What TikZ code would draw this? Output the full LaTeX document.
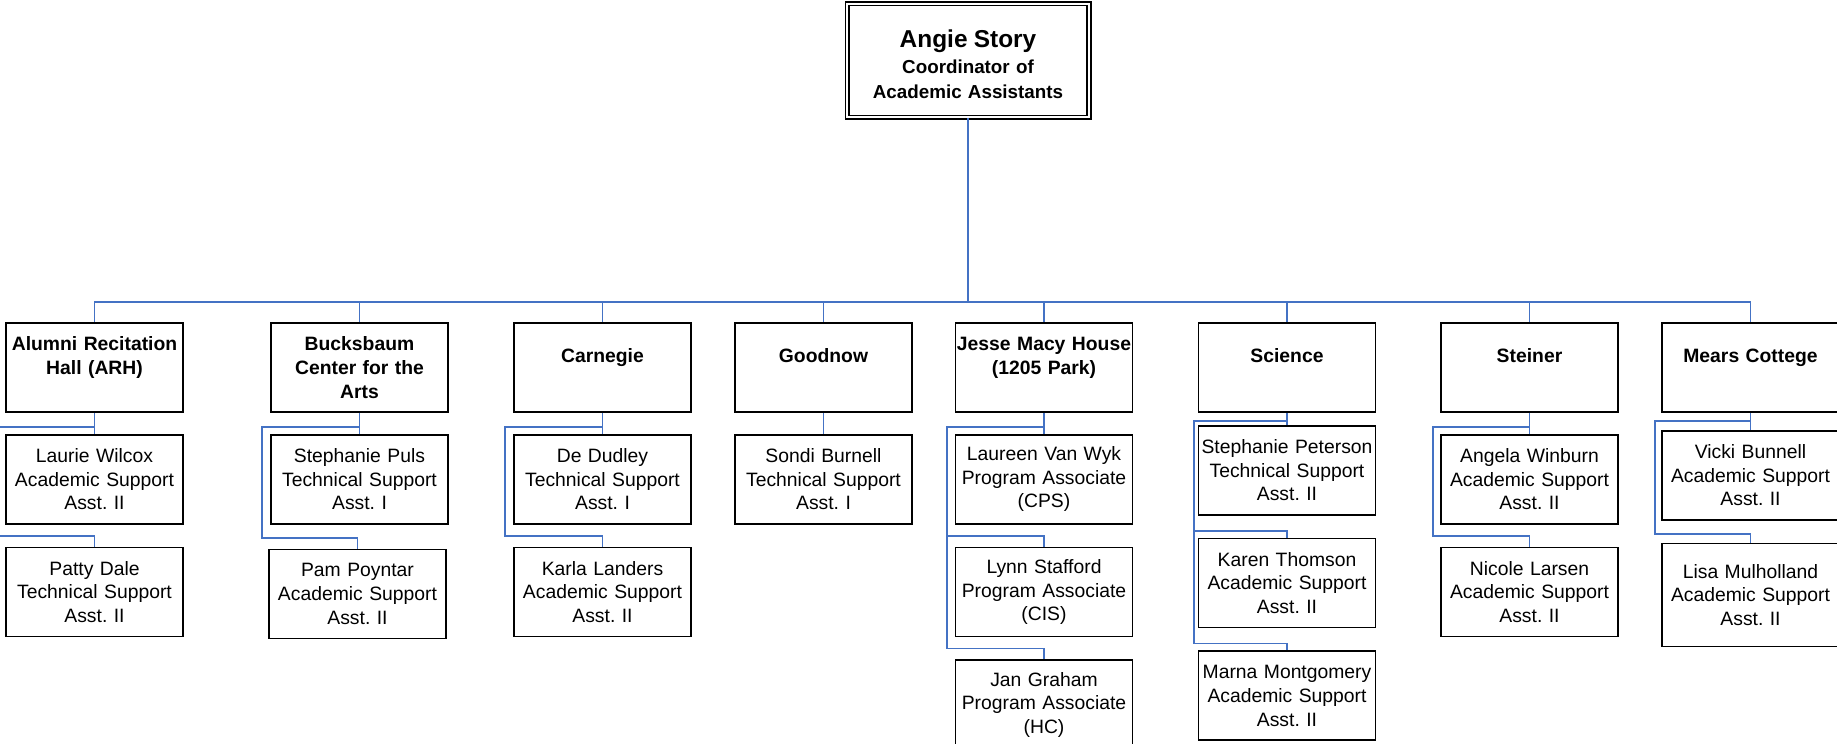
\documentclass[tikz,border=0pt]{standalone}
\usepackage{fontspec}
\setmainfont{Liberation Sans}
\usetikzlibrary{positioning,calc}
\definecolor{LinkBlue}{RGB}{68,114,196}
\frenchspacing

\begin{document}
\begin{tikzpicture}[
  head/.style={draw,double,line width=0.8pt,double distance=1.4pt,minimum width=4.73cm,minimum height=2.27cm,text width=4.6cm,align=center,font=\bfseries\fontsize{10.7}{13.8}\selectfont},
  dept/.style={draw,line width=1pt,minimum width=3.54cm,minimum height=1.78cm,inner xsep=0.02cm,text width=3.5cm,align=center,font=\bfseries\fontsize{11}{13.5}\selectfont},
  staff/.style={dept,font=\fontsize{11}{13.5}\selectfont},
  link/.style={draw=LinkBlue,line width=1pt},
  node distance=0.44cm
]
  \useasboundingbox (0,0) rectangle (36.74,-14.86);

  % coordinator
  \node[head] (angie) at (19.36,-1.21) {\rule{0pt}{0.5cm}{\fontsize{13.9}{16}\selectfont Angie Story}\\[1pt] Coordinator of\\ Academic Assistants};
  \coordinate (bus) at (19.36,-6.04);

  % buildings
  \node[dept] (arh) at (1.89,-7.35) {Alumni Recitation\\ Hall (ARH)\\ \mbox{}};
  \node[dept] (bucks) at (7.19,-7.35) {Bucksbaum\\ Center for the\\ Arts};
  \node[dept] (carn) at (12.05,-7.35) {Carnegie\\ \mbox{}};
  \node[dept] (good) at (16.47,-7.35) {Goodnow\\ \mbox{}};
  \node[dept] (jmh) at (20.88,-7.35) {Jesse Macy House\\ (1205 Park)\\ \mbox{}};
  \node[dept] (sci) at (25.74,-7.35) {Science\\ \mbox{}};
  \node[dept] (stein) at (30.59,-7.35) {Steiner\\ \mbox{}};
  \node[dept] (mears) at (35.01,-7.35) {Mears Cottege\\ \mbox{}};

  % assistants
  \node[staff,below=0.42cm of arh] (arh-a) {Laurie Wilcox\\ Academic Support\\ Asst. II};
  \node[staff,below=of arh-a] (arh-b) {Patty Dale\\ Technical Support\\ Asst. II};

  \node[staff,below=0.42cm of bucks] (bucks-a) {Stephanie Puls\\ Technical Support\\ Asst. I};
  \node[staff,below=0.48cm of bucks-a,xshift=-0.04cm] (bucks-b) {Pam Poyntar\\ Academic Support\\ Asst. II};

  \node[staff,below=0.42cm of carn] (carn-a) {De Dudley\\ Technical Support\\ Asst. I};
  \node[staff,below=of carn-a] (carn-b) {Karla Landers\\ Academic Support\\ Asst. II};

  \node[staff,below=0.42cm of good] (good-a) {Sondi Burnell\\ Technical Support\\ Asst. I};

  \node[staff,below=0.42cm of jmh] (jmh-a) {Laureen Van Wyk\\ Program Associate\\ (CPS)};
  \node[staff,below=of jmh-a] (jmh-b) {Lynn Stafford\\ Program Associate\\ (CIS)};
  \node[staff,below=of jmh-b] (jmh-c) {Jan Graham\\ Program Associate\\ (HC)};

  \node[staff,below=0.24cm of sci] (sci-a) {Stephanie Peterson\\ Technical Support\\ Asst. II};
  \node[staff,below=of sci-a] (sci-b) {Karen Thomson\\ Academic Support\\ Asst. II};
  \node[staff,below=of sci-b] (sci-c) {Marna Montgomery\\ Academic Support\\ Asst. II};

  \node[staff,below=0.42cm of stein] (stein-a) {Angela Winburn\\ Academic Support\\ Asst. II};
  \node[staff,below=of stein-a] (stein-b) {Nicole Larsen\\ Academic Support\\ Asst. II};

  \node[staff,below=0.34cm of mears] (mears-a) {Vicki Bunnell\\ Academic Support\\ Asst. II};
  \node[staff,below=of mears-a,minimum height=2.06cm] (mears-b) {Lisa Mulholland\\ Academic Support\\ Asst. II};

  % top level links
  \draw[link] (angie) -- (bus);
  \draw[link] (arh.north) |- (bus) -| (mears.north);
  \draw[link] (bucks |- bus) -- (bucks);
  \draw[link] (carn |- bus) -- (carn);
  \draw[link] (good |- bus) -- (good);
  \draw[link] (jmh |- bus) -- (jmh);
  \draw[link] (sci |- bus) -- (sci);
  \draw[link] (stein |- bus) -- (stein);

  % rails to the assistants
  \coordinate (arh-r) at ($(arh-a.west)+(-0.16,0)$);
  \draw[link] (arh) -- (arh-a);
  \draw[link] ([yshift=-0.28cm]arh.south) -| ($(arh-b.north -| arh-r)+(0,0.22)$) -| (arh-b);

  \coordinate (bucks-r) at ($(bucks-a.west)+(-0.16,0)$);
  \draw[link] (bucks) -- (bucks-a);
  \draw[link] ([yshift=-0.28cm]bucks.south) -| ($(bucks-b.north -| bucks-r)+(0,0.22)$) -| (bucks-b);

  \coordinate (carn-r) at ($(carn-a.west)+(-0.16,0)$);
  \draw[link] (carn) -- (carn-a);
  \draw[link] ([yshift=-0.28cm]carn.south) -| ($(carn-b.north -| carn-r)+(0,0.22)$) -| (carn-b);

  \draw[link] (good) -- (good-a);

  \coordinate (jmh-r) at ($(jmh-a.west)+(-0.16,0)$);
  \draw[link] (jmh) -- (jmh-a);
  \draw[link] ([yshift=-0.28cm]jmh.south) -| ($(jmh-c.north -| jmh-r)+(0,0.22)$) -| (jmh-c);
  \draw[link] ($(jmh-b.north -| jmh-r)+(0,0.22)$) -| (jmh-b);

  \coordinate (sci-r) at ($(sci-a.west)+(-0.08,0)$);
  \draw[link] (sci) -- (sci-a);
  \draw[link] ([yshift=-0.16cm]sci.south) -| ($(sci-c.north -| sci-r)+(0,0.14)$) -| (sci-c);
  \draw[link] ($(sci-b.north -| sci-r)+(0,0.14)$) -| (sci-b);

  \coordinate (stein-r) at ($(stein-a.west)+(-0.14,0)$);
  \draw[link] (stein) -- (stein-a);
  \draw[link] ([yshift=-0.28cm]stein.south) -| ($(stein-b.north -| stein-r)+(0,0.22)$) -| (stein-b);

  \coordinate (mears-r) at ($(mears-a.west)+(-0.12,0)$);
  \draw[link] (mears) -- (mears-a);
  \draw[link] ([yshift=-0.16cm]mears.south) -| ($(mears-b.north -| mears-r)+(0,0.18)$) -| (mears-b);
\end{tikzpicture}
\end{document}
